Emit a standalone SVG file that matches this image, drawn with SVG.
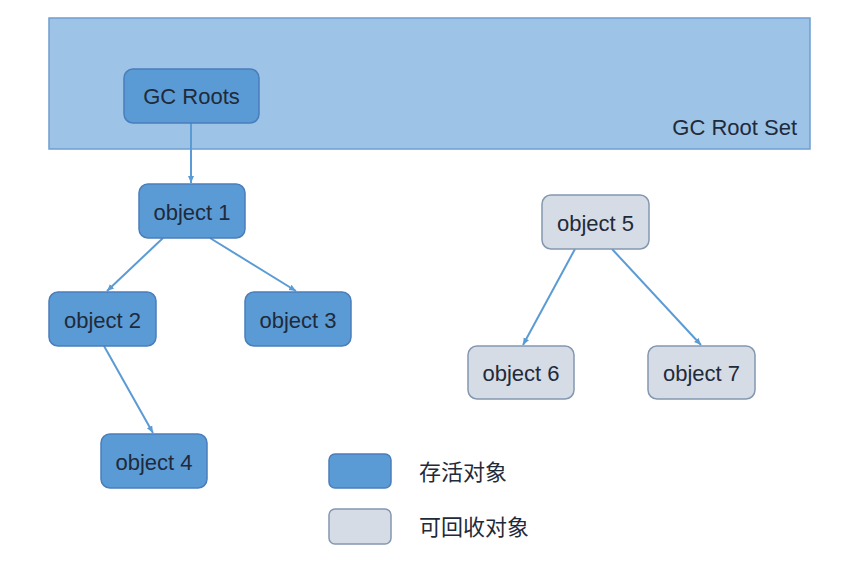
<svg xmlns="http://www.w3.org/2000/svg" width="860" height="568" viewBox="0 0 860 568">
<style>
.live rect{fill:#5B9BD5;stroke:#4A7EBB;stroke-width:1.5}
.dead rect{fill:#D6DCE5;stroke:#8497B0;stroke-width:1.5}
text{font-family:"Liberation Sans","Noto Sans CJK SC",sans-serif;font-size:22px;fill:#1F2A3A}
.c{text-anchor:middle}
.edges line{stroke:#5B9BD5;stroke-width:2;marker-end:url(#ah)}
</style>
<defs>
<marker id="ah" markerWidth="8" markerHeight="8" refX="7" refY="4" orient="auto" markerUnits="userSpaceOnUse">
<path d="M0,1 L7,4 L0,7 z" fill="#5B9BD5"/>
</marker>
</defs>
<rect width="860" height="568" fill="#FFFFFF"/>
<g id="rootset">
<rect x="49" y="18" width="761" height="131" fill="#9DC3E6" stroke="#6F9FD0" stroke-width="1.5"/>
<text x="797" y="135" text-anchor="end">GC Root Set</text>
</g>
<g class="edges" id="connectors">
<line x1="191" y1="123" x2="191" y2="183"/>
<line x1="163" y1="238" x2="107" y2="291"/>
<line x1="210" y1="238" x2="296" y2="291"/>
<line x1="104" y1="346" x2="153" y2="433"/>
<line x1="575" y1="249" x2="523" y2="345"/>
<line x1="612" y1="249" x2="701" y2="345"/>
</g>
<g id="gcroots" class="live"><rect x="124" y="69" width="135" height="54" rx="9"/><text class="c" x="191.5" y="104">GC Roots</text></g>
<g id="object1" class="live"><rect x="139" y="184" width="106" height="54" rx="9"/><text class="c" x="192" y="220">object 1</text></g>
<g id="object2" class="live"><rect x="49" y="292" width="107" height="54" rx="9"/><text class="c" x="102.5" y="328">object 2</text></g>
<g id="object3" class="live"><rect x="245" y="292" width="106" height="54" rx="9"/><text class="c" x="298" y="328">object 3</text></g>
<g id="object4" class="live"><rect x="101" y="434" width="106" height="54" rx="9"/><text class="c" x="154" y="470">object 4</text></g>
<g id="object5" class="dead"><rect x="542" y="195" width="107" height="54" rx="9"/><text class="c" x="595.5" y="231">object 5</text></g>
<g id="object6" class="dead"><rect x="468" y="346" width="106" height="53" rx="9"/><text class="c" x="521" y="381">object 6</text></g>
<g id="object7" class="dead"><rect x="648" y="346" width="107" height="53" rx="9"/><text class="c" x="701.5" y="381">object 7</text></g>
<g id="legend-live" class="live"><rect x="329" y="454" width="62" height="34" rx="6"/><text x="419" y="480">存活对象</text></g>
<g id="legend-dead" class="dead"><rect x="329" y="509" width="62" height="35" rx="6"/><text x="419" y="535">可回收对象</text></g>
</svg>
